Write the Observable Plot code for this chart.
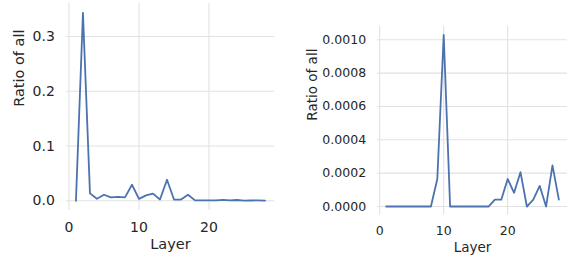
<!DOCTYPE html>
<html>
<head>
<meta charset="utf-8">
<script src="https://cdn.jsdelivr.net/npm/d3@7"></script>
<script src="https://cdn.jsdelivr.net/npm/@observablehq/plot@0.6"></script>
<style>
  html, body { margin: 0; padding: 0; background: #fff; }
  #wrap { position: relative; width: 570px; height: 262px; overflow: hidden; }
  #left, #right { position: absolute; top: 0; }
  #left { left: 0; }
  #right { left: 285px; }
  svg { overflow: visible; }
</style>
</head>
<body>
<div id="wrap"><div id="left"></div><div id="right"></div></div>
<script>
const layers = d3.range(1, 29);
const leftValues = [0.0, 0.343, 0.0135, 0.0036, 0.011, 0.0062, 0.0073, 0.0062, 0.0293, 0.0036,
  0.010, 0.0131, 0.0025, 0.0384, 0.0024, 0.0022, 0.011, 0.0008, 0.0009, 0.0008,
  0.0008, 0.0018, 0.0009, 0.0015, 0.0005, 0.0006, 0.0009, 0.0005];
const rightValues = [0, 0, 0, 0, 0, 0, 0, 0, 0.000165, 0.00103,
  0, 0, 0, 0, 0, 0, 0, 0.0000412, 0.0000412, 0.000165,
  0.0000825, 0.000206, 0, 0.0000412, 0.000124, 0, 0.000247, 0.0000412];
const xTicks = [0, 10, 20];
const leftYTicks = [0, 0.1, 0.2, 0.3];
const rightYTicks = [0, 0.0002, 0.0004, 0.0006, 0.0008, 0.0010];
const xLabel = "Layer";
const yLabel = "Ratio of all";

const lineColor = "#4c72b0";
const gridColor = "#e2e2e2";
const textColor = "#262626";

function panel({values, yTicks, yFormat, yDomain, margins, tickFont, labelFont, tickPad, xLabelDy, yLabelDx}) {
  const data = layers.map((l, i) => ({layer: l, value: values[i]}));
  return Plot.plot({
    width: 285,
    height: 262,
    marginLeft: margins[0],
    marginRight: margins[1],
    marginTop: margins[2],
    marginBottom: margins[3],
    style: {fontFamily: "DejaVu Sans", fontSize: tickFont + "px", color: textColor, background: "white"},
    x: {domain: [-0.35, 29.35], ticks: xTicks, tickSize: 0, tickPadding: tickPad[0], tickFormat: d3.format("d"), label: null},
    y: {domain: yDomain, ticks: yTicks, tickSize: 0, tickPadding: tickPad[1], tickFormat: d3.format(yFormat), label: null},
    marks: [
      Plot.ruleX(xTicks, {stroke: gridColor, strokeWidth: 1.1}),
      Plot.ruleY(yTicks, {stroke: gridColor, strokeWidth: 1.1}),
      Plot.line(data, {x: "layer", y: "value", stroke: lineColor, strokeWidth: 1.8}),
      Plot.text([xLabel], {frameAnchor: "bottom", dy: xLabelDy, fontSize: labelFont, fill: textColor}),
      Plot.text([yLabel], {frameAnchor: "left", rotate: -90, dx: yLabelDx, fontSize: labelFont, fill: textColor})
    ]
  });
}

document.getElementById("left").appendChild(panel({
  values: leftValues,
  yTicks: leftYTicks,
  yFormat: ".1f",
  yDomain: [-0.01715, 0.36015],
  margins: [66, 11, 3, 52.3],
  tickFont: 14,
  labelFont: 14.5,
  tickPad: [12, 11.7],
  xLabelDy: 39,
  yLabelDx: -46.9
}));

document.getElementById("right").appendChild(panel({
  values: rightValues,
  yTicks: rightYTicks,
  yFormat: ".4f",
  yDomain: [-0.0000515, 0.0010815],
  margins: [92, 3, 25.7, 47.4],
  tickFont: 12.5,
  labelFont: 13.5,
  tickPad: [11.5, 11.4],
  xLabelDy: 36.5,
  yLabelDx: -64.7
}));
</script>
</body>
</html>
